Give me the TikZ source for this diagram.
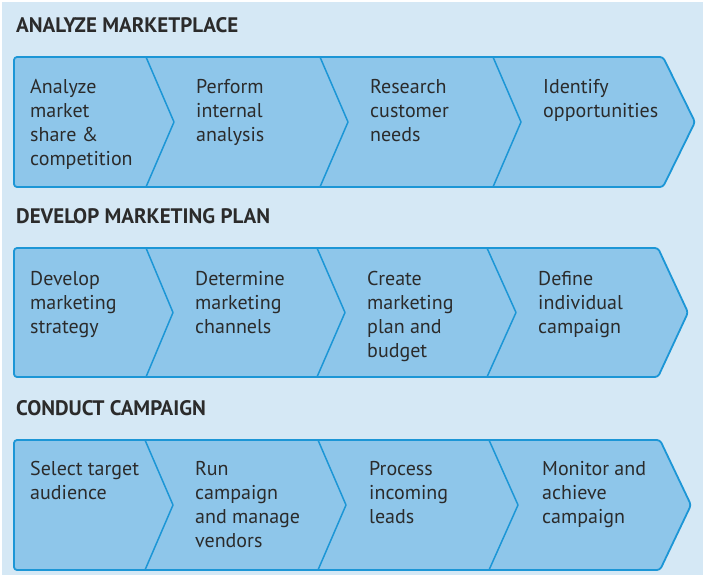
\documentclass[tikz,border=0pt]{standalone}
\usepackage{fontspec}
\setmainfont{PT Sans}
\definecolor{bg}{HTML}{D5E8F5}
\definecolor{boxfill}{HTML}{8EC6EA}
\definecolor{edge}{HTML}{1C96D6}
\definecolor{txt}{HTML}{2B2B2B}
\begin{document}
\begin{tikzpicture}[x=1pt,y=-1pt,
  chevrow/.style={draw=edge, line width=1.8pt, fill=boxfill, line join=round, rounded corners=3pt},
  sepline/.style={draw=edge, line width=1.5pt, line join=round},
  lbl/.style={anchor=north west, inner sep=0pt, align=left, text=txt, font=\fontsize{20}{24}\selectfont},
  head/.style={anchor=base west, inner sep=0pt, text=txt, font=\bfseries\fontsize{21}{24}\selectfont}]
\useasboundingbox (0,0) rectangle (703,576);
\fill[white] (0,0) rectangle (703,576);
\fill[bg] (2,2) rectangle (703,575);

% Row 1
\node[head] (h1) at (16,32) {ANALYZE MARKETPLACE};
\path[chevrow] (14,57) -- (663,57) -- (695,122) -- (663,187) -- (14,187) -- cycle;
\draw[sepline] (146,57) -- (174,122) -- (146,187);
\draw[sepline] (320,57) -- (348,122) -- (320,187);
\draw[sepline] (493,57) -- (521,122) -- (493,187);
\node[lbl] (a1) at (30,77) {\rule{0pt}{16pt}Analyze\\market\\share \&\\competition};
\node[lbl] (a2) at (196,77) {\rule{0pt}{16pt}Perform\\internal\\analysis};
\node[lbl] (a3) at (370,77) {\rule{0pt}{16pt}Research\\customer\\needs};
\node[lbl] (a4) at (543,77) {\rule{0pt}{16pt}Identify\\opportunities};

% Row 2
\node[head] (h2) at (16,223) {DEVELOP MARKETING PLAN};
\path[chevrow] (14,248) -- (658,248) -- (688,312.5) -- (658,377) -- (14,377) -- cycle;
\draw[sepline] (146,248) -- (173,312.5) -- (146,377);
\draw[sepline] (317,248) -- (345,312.5) -- (317,377);
\draw[sepline] (487,248) -- (516,312.5) -- (487,377);
\node[lbl] (b1) at (30,269) {\rule{0pt}{16pt}Develop\\marketing\\strategy};
\node[lbl] (b2) at (195,269) {\rule{0pt}{16pt}Determine\\marketing\\channels};
\node[lbl] (b3) at (367,269) {\rule{0pt}{16pt}Create\\marketing\\plan and\\budget};
\node[lbl] (b4) at (538,269) {\rule{0pt}{16pt}Define\\individual\\campaign};

% Row 3
\node[head] (h3) at (16,415) {CONDUCT CAMPAIGN};
\path[chevrow] (14,440) -- (660,440) -- (691,505) -- (660,570) -- (14,570) -- cycle;
\draw[sepline] (145,440) -- (173,505) -- (145,570);
\draw[sepline] (318,440) -- (346,505) -- (318,570);
\draw[sepline] (489,440) -- (518,505) -- (489,570);
\node[lbl] (c1) at (30,459) {\rule{0pt}{16pt}Select target\\audience};
\node[lbl] (c2) at (195,459) {\rule{0pt}{16pt}Run\\campaign\\and manage\\vendors};
\node[lbl] (c3) at (369,459) {\rule{0pt}{16pt}Process\\incoming\\leads};
\node[lbl] (c4) at (542,459) {\rule{0pt}{16pt}Monitor and\\achieve\\campaign};
\end{tikzpicture}
\end{document}
